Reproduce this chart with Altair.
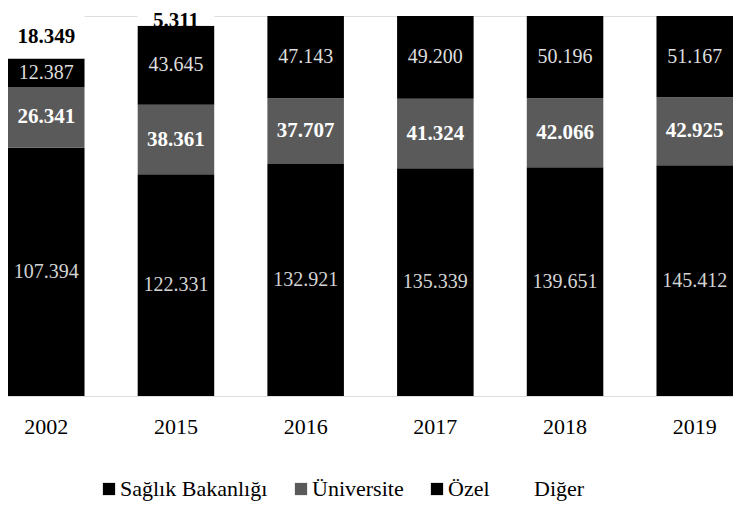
import altair as alt
import pandas as pd

years = ["2002", "2015", "2016", "2017", "2018", "2019"]
series = ["Sağlık Bakanlığı", "Üniversite", "Özel", "Diğer"]
saglik = [107394, 122331, 132921, 135339, 139651, 145412]
univ = [26341, 38361, 37707, 41324, 42066, 42925]
ozel = [12387, 43645, 47143, 49200, 50196, 51167]
diger = [18349, 5311, 0, 0, 0, 0]

bar_colors = ["#000000", "#5a5a5a", "#000000", "#ffffff"]
text_colors = ["#d4d4d4", "#ffffff", "#dedede", "#000000"]

rows = []
for s_i, (name, vals) in enumerate(zip(series, [saglik, univ, ozel, diger])):
    for y, v in zip(years, vals):
        rows.append({
            "year": y,
            "series": name,
            "ord": s_i,
            "value": v,
            "label": f"{v:,}".replace(",", "."),
            "tcolor": text_colors[s_i],
            "bold": 1 if name in ("Üniversite", "Diğer") else 0,
        })
df = pd.DataFrame(rows)

FONT = "Times New Roman, Liberation Serif, serif"

base = alt.Chart(df).transform_stack(
    stack="value",
    groupby=["year"],
    sort=[alt.SortField("ord", order="ascending")],
    as_=["y0", "y1"],
    offset="normalize",
).transform_calculate(mid="(datum.y0 + datum.y1) / 2")

xscale = alt.Scale(paddingInner=0.41, paddingOuter=0)
xenc = alt.X(
    "year:N",
    sort=years,
    scale=xscale,
    axis=alt.Axis(
        title=None, labelAngle=0, ticks=False, domain=False,
        labelFont=FONT, labelFontSize=22, labelPadding=20, labelColor="#000000",
    ),
)
yscale = alt.Scale(domain=[0, 1], nice=False, zero=True)

bars = base.mark_bar(strokeWidth=0).encode(
    x=xenc,
    y=alt.Y("y0:Q", scale=yscale, axis=None),
    y2="y1:Q",
    color=alt.Color(
        "series:N",
        scale=alt.Scale(domain=series, range=bar_colors),
        sort=series,
        legend=alt.Legend(
            orient="none", legendX=90, legendY=462, direction="horizontal",
            columns=4, title=None, symbolType="square", symbolSize=150,
            symbolStrokeWidth=0, labelFont=FONT, labelFontSize=22,
            labelColor="#000000", columnPadding=22, labelOffset=0,
        ),
    ),
)

labels_reg = base.transform_filter("datum.value > 0 && datum.bold == 0").mark_text(
    font=FONT, fontSize=20, fontWeight="normal", baseline="middle", align="center"
).encode(
    x=alt.X("year:N", sort=years, scale=xscale),
    y=alt.Y("mid:Q", scale=yscale, axis=None),
    text="label:N",
    color=alt.Color("tcolor:N", scale=None),
)

labels_bold = base.transform_filter("datum.value > 0 && datum.bold == 1").mark_text(
    font=FONT, fontSize=21, fontWeight="bold", baseline="middle", align="center"
).encode(
    x=alt.X("year:N", sort=years, scale=xscale),
    y=alt.Y("mid:Q", scale=yscale, axis=None),
    text="label:N",
    color=alt.Color("tcolor:N", scale=None),
)

chart = alt.layer(bars, labels_reg, labels_bold).properties(
    width=725,
    height=380,
    padding={"left": 0, "top": 8, "right": 0, "bottom": 108},
    autosize=alt.AutoSizeParams(type="none"),
).configure_view(stroke=None).configure(background="#ffffff")

chart.save("out.html", embed_options={"renderer": "svg", "actions": False})
